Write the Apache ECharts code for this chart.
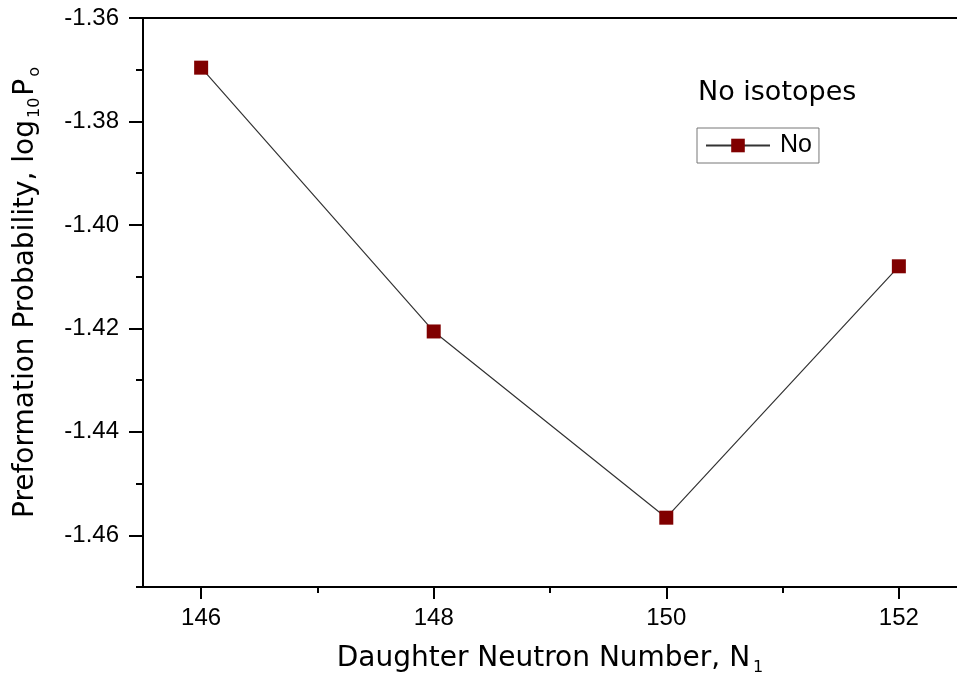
<!DOCTYPE html>
<html>
<head>
<meta charset="utf-8">
<script src="https://cdn.jsdelivr.net/npm/echarts@6/dist/echarts.min.js"></script>
<style>html,body{margin:0;padding:0;background:#fff}#c{width:957px;height:682px}</style>
</head>
<body>
<div id="c"></div>
<script>
const neutronNumbers = [146, 148, 150, 152];
const preformation = [-1.3696, -1.4206, -1.4566, -1.4080];
const xMajorTicks = [146, 148, 150, 152];
const xMinorTicks = [147, 149, 151];
const yMajorTicks = [-1.46, -1.44, -1.42, -1.40, -1.38, -1.36];
const yMinorTicks = [-1.47, -1.45, -1.43, -1.41, -1.39, -1.37];
const seriesName = 'No';
const legendTitle = 'No isotopes';

const FONT = 'DejaVu Sans';
const LFONT = 'Liberation Sans';
const chart = echarts.init(document.getElementById('c'), null, {renderer: 'canvas'});
const axisLine = {show: true, lineStyle: {color: '#000', width: 2}};
chart.setOption({
  animation: false,
  backgroundColor: '#fff',
  title: {
    text: legendTitle, left: 693, top: 74, padding: [5, 5, 5, 5],
    textStyle: {fontFamily: FONT, fontSize: 27, fontWeight: 'normal', color: '#000'}
  },
  legend: {
    data: [seriesName], left: 697, top: 128,
    orient: 'horizontal',
    itemWidth: 64, itemHeight: 17,
    padding: [5, 7, 5, 8],
    borderColor: '#777', borderWidth: 1,
    textStyle: {fontFamily: LFONT, fontSize: 25, color: '#000', padding: [0, 0, 0, 5]}
  },
  grid: {left: 143, top: 18, width: 822, height: 569, containLabel: false},
  xAxis: [
    {
      type: 'value', min: 145.5, max: 152.5, position: 'bottom',
      axisLine: axisLine,
      axisTick: {show: true, length: 12, customValues: xMajorTicks, lineStyle: {color: '#000', width: 2}},
      axisLabel: {customValues: xMajorTicks, fontFamily: LFONT, fontSize: 24, color: '#000', margin: 19},
      splitLine: {show: false},
      name: '{a|Daughter Neutron Number, N}{s|1}',
      nameLocation: 'middle', nameGap: 55,
      nameTextStyle: {
        rich: {
          a: {fontFamily: FONT, fontSize: 28, color: '#000'},
          s: {fontFamily: FONT, fontSize: 16, color: '#000', padding: [18, 0, 0, 3]}
        }
      }
    },
    {
      type: 'value', min: 145.5, max: 152.5, position: 'bottom',
      axisLine: {show: false},
      axisTick: {show: true, length: 6, customValues: xMinorTicks, lineStyle: {color: '#000', width: 2}},
      axisLabel: {show: false},
      splitLine: {show: false}
    },
    {
      type: 'value', min: 145.5, max: 152.5, position: 'top',
      axisLine: axisLine,
      axisTick: {show: false}, axisLabel: {show: false}, splitLine: {show: false}
    }
  ],
  yAxis: [
    {
      type: 'value', min: -1.47, max: -1.36, position: 'left',
      axisLine: axisLine,
      axisTick: {show: true, length: 14, customValues: yMajorTicks, lineStyle: {color: '#000', width: 2}},
      axisLabel: {
        customValues: yMajorTicks, fontFamily: LFONT, fontSize: 24, color: '#000', margin: 24,
        formatter: v => v.toFixed(2)
      },
      splitLine: {show: false},
      name: '{f|Preformation Probability, log}{s|10}{a|P}{s|o}',
      nameLocation: 'middle', nameGap: 100, nameRotate: 90,
      nameTextStyle: {
        rich: {
          f: {fontFamily: FONT, fontSize: 28, color: '#000', padding: [0, 0, 0, 22]},
          a: {fontFamily: FONT, fontSize: 28, color: '#000'},
          s: {fontFamily: FONT, fontSize: 16, color: '#000', padding: [18, 2, 0, 2]}
        }
      }
    },
    {
      type: 'value', min: -1.47, max: -1.36, position: 'left',
      axisLine: {show: false},
      axisTick: {show: true, length: 7, customValues: yMinorTicks, lineStyle: {color: '#000', width: 2}},
      axisLabel: {show: false},
      splitLine: {show: false}
    }
  ],
  series: [{
    name: seriesName,
    type: 'line',
    xAxisIndex: 0, yAxisIndex: 0,
    data: neutronNumbers.map((n, i) => [n, preformation[i]]),
    symbol: 'rect', symbolSize: 14,
    itemStyle: {color: '#800000'},
    lineStyle: {color: '#333', width: 1.2}
  }]
});
</script>
</body>
</html>
